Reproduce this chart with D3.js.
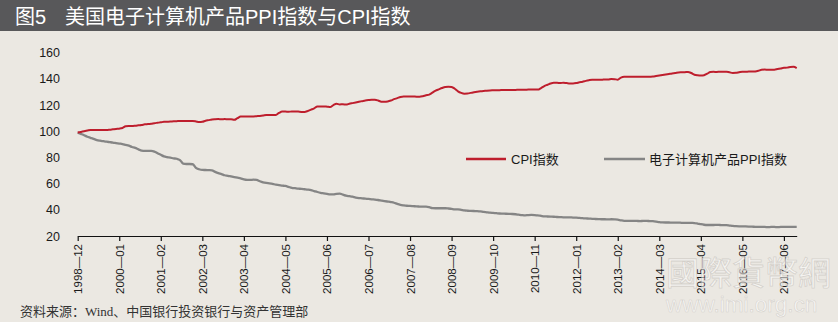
<!DOCTYPE html>
<html>
<head>
<meta charset="utf-8">
<script src="https://cdn.jsdelivr.net/npm/d3@7"></script>
<style>
  html, body { margin: 0; padding: 0; background: #ebe8e2; }
  svg { display: block; }
</style>
</head>
<body>
<svg id="chart" width="838" height="322"></svg>
<script>
// ---- data (monthly index, 1998-12 = 100 base) ----
const seriesNames = ["CPI指数", "电子计算机产品PPI指数"];

const cpiValues = [
  99,99.5,100,100.5,101,101,101,101,101,101,101.2,101.5,101.8,
  102,102.5,103.8,104,104,104.2,104.5,104.8,105.3,105.5,105.8,106.2,106.5,
  106.8,107.2,107.3,107.4,107.6,107.7,107.8,107.8,107.8,107.8,107.8,107.5,107,
  107.2,108,108.5,109,109.2,109.3,109.2,109.3,109.2,109.2,108.7,110,111.2,
  111.3,111.3,111.3,111.3,111.5,111.7,112,112.4,112.4,112.4,112.5,114,115,
  115,114.9,115.1,115.1,115,114.8,114.8,115.5,116.5,117.5,119,119,119,
  118.8,118.5,120,121,120.5,120.6,120.4,121,121.5,122,122.5,123,123.5,
  123.8,124,124,123.5,122.6,122.5,122.8,123.5,124.5,125.3,126.2,126.6,126.6,
  126.5,126.6,126.4,126.4,126.8,127.5,128,129.5,131,132,133,133.8,134,
  133.8,132.5,130.5,129.3,128.7,128.8,129.3,129.8,130.2,130.5,130.7,131,131.2,
  131.3,131.4,131.4,131.5,131.5,131.6,131.6,131.6,131.7,131.7,131.7,131.8,131.8,
  131.8,131.8,133,134.5,135.5,136.5,137,137,136.8,137.1,136.8,136.5,136.5,
  136.8,137.4,137.8,138.5,139,139.3,139.3,139.4,139.3,139.6,139.5,140,139.8,
  139.4,141,141.6,141.6,141.6,141.7,141.6,141.6,141.7,141.6,141.7,141.8,142.2,
  142.6,143,143.4,143.8,144.2,144.5,144.9,145,145.1,145.3,144.5,143.2,142.7,
  142.5,142.8,144,145.3,145.4,145.3,145.5,145.4,145.5,145,144.5,144.6,145.1,
  145.5,145.4,145.6,145.6,145.7,146.2,147,147.1,147,147,147,147.5,148,
  148.5,148.6,149,149.2,148.3
];

const ppiValues = [
  99,98,97,95.8,95,94.2,93.3,92.8,92.4,92,91.7,91.4,91,
  90.6,90.2,89.6,89,88,87.3,86.2,85.2,85,85,85,84.5,83.2,
  82,80.8,80.2,79.8,79.3,79,78,75.3,75,75,74.8,72,71,
  70.5,70.4,70.3,70.2,69,68,67.3,66.4,66,65.5,65,64.5,64,
  63.2,62.8,62.8,63,62.8,61.8,61,60.5,60.2,59.8,59.2,58.9,58.5,
  58.2,57.5,56.8,56.5,56.2,56,55.7,55.4,55,54.3,53.6,53,52.6,
  52.2,51.8,51.8,52.2,52.3,51.6,50.8,50.4,50,49.4,49,48.8,48.5,
  48.3,48,47.8,47.5,47.1,46.7,46.3,45.9,45.4,44.5,43.8,43.4,43.1,
  43,42.8,42.6,42.5,42.4,42.4,42,41.3,41.2,41.2,41.2,41.2,41,
  40.7,40.4,40.4,40,39.5,39.3,39.2,39.1,39,38.8,38.4,38.1,37.8,
  37.6,37.4,37.2,37.1,37,36.9,36.8,36.6,36.3,36,35.8,36,36.1,
  36,35.8,35.4,35,34.9,34.8,34.7,34.5,34.4,34.3,34.3,34.2,34.1,
  34,33.8,33.6,33.4,33.3,33.1,33,32.9,32.8,32.8,32.7,32.8,32.7,
  32.5,32,31.6,31.5,31.5,31.6,31.5,31.4,31.5,31.5,31.4,31.3,31,
  30.6,30.4,30.3,30.3,30.2,30.2,30.2,30.1,30.1,30.1,30,29.9,29.5,
  29,28.6,28.4,28.4,28.4,28.5,28.4,28.3,28.3,28,27.7,27.5,27.4,
  27.4,27.3,27.2,27.1,27,26.9,26.9,26.9,26.8,26.9,26.9,26.8,26.9,
  26.9,26.9,26.9,26.9,26.9
];

const xTickLabels = [
  "1998—12","2000—01","2001—02","2002—03","2003—04","2004—05",
  "2005—06","2006—07","2007—08","2008—09","2009—10","2010—11",
  "2012—01","2013—02","2014—03","2015—04","2016—05","2017—06"
];
const yTicks = [20, 40, 60, 80, 100, 120, 140, 160];

const titleLabel = "图5";
const titleText = "美国电子计算机产品PPI指数与CPI指数";
const sourceText = "资料来源：Wind、中国银行投资银行与资产管理部";

// ---- drawing ----
const svg = d3.select("#chart");
const W = 838, H = 322;
const latin = "'Liberation Sans', Arial, Helvetica, 'Noto Sans CJK SC', sans-serif";
const cjk = "'Liberation Sans', 'Noto Sans CJK SC', sans-serif";

svg.append("rect").attr("width", W).attr("height", H).attr("fill", "#ebe8e2");

// title bar
svg.append("rect").attr("x", 0).attr("y", 0).attr("width", W).attr("height", 31).attr("fill", "#58585a");
svg.append("text").attr("x", 15).attr("y", 23.5)
  .attr("font-family", cjk).attr("font-size", 20).attr("fill", "#ffffff").text(titleLabel);
svg.append("text").attr("x", 65).attr("y", 23.5)
  .attr("font-family", cjk).attr("font-size", 20).attr("fill", "#ffffff").text(titleText);

const n = cpiValues.length;
const x = d3.scaleLinear().domain([0, n - 1]).range([77.7, 796.7]);
const y = d3.scaleLinear().domain([20, 160]).range([236, 52.7]);

// y axis labels (no line, no ticks)
const yAxis = d3.axisLeft(y).tickValues(yTicks).tickSize(0).tickPadding(0).tickFormat(d3.format("d"));
const gy = svg.append("g").attr("transform", "translate(60,0)").call(yAxis);
gy.select(".domain").remove();
gy.selectAll("text").attr("font-family", latin).attr("font-size", 12.5).attr("fill", "#1a1a1a");

// x axis
const tickIdx = xTickLabels.map((_, i) => i * 13);
const xAxis = d3.axisBottom(x).tickValues(tickIdx).tickSize(5)
  .tickFormat((d, i) => xTickLabels[i]).tickSizeOuter(0);
const gx = svg.append("g").attr("transform", "translate(0,236)").call(xAxis);
gx.select(".domain").attr("stroke", "#111").attr("stroke-width", 1.2);
gx.selectAll(".tick line").attr("stroke", "#111").attr("stroke-width", 1.2);
gx.selectAll(".tick text")
  .attr("font-family", latin).attr("font-size", 11.5).attr("fill", "#1a1a1a")
  .attr("transform", "rotate(-90)")
  .attr("text-anchor", "end")
  .attr("x", -8).attr("y", 0).attr("dy", "0.35em");

// lines
const line = d3.line().x((d, i) => x(i)).y(d => y(d)).curve(d3.curveMonotoneX);
svg.append("path").datum(ppiValues).attr("d", line)
  .attr("fill", "none").attr("stroke", "#858585").attr("stroke-width", 2.3).attr("stroke-linejoin", "round");
svg.append("path").datum(cpiValues).attr("d", line)
  .attr("fill", "none").attr("stroke", "#be1e2d").attr("stroke-width", 2).attr("stroke-linejoin", "round");

// legend
const legend = [
  { name: seriesNames[0], color: "#be1e2d", x1: 466, x2: 506, tx: 511 },
  { name: seriesNames[1], color: "#858585", x1: 604, x2: 645, tx: 649 }
];
legend.forEach(l => {
  svg.append("line").attr("x1", l.x1).attr("x2", l.x2).attr("y1", 159).attr("y2", 159)
    .attr("stroke", l.color).attr("stroke-width", 2.3);
  svg.append("text").attr("x", l.tx).attr("y", 163.5)
    .attr("font-family", cjk).attr("font-size", 13).attr("fill", "#1a1a1a").text(l.name);
});

// source
svg.append("text").attr("x", 20).attr("y", 316)
  .attr("font-family", "'Liberation Serif', 'DejaVu Serif', 'Noto Sans CJK SC', serif")
  .attr("font-size", 13).attr("fill", "#333").text(sourceText);

// watermark
svg.append("text").attr("x", 666).attr("y", 285)
  .attr("font-family", "'Noto Sans CJK TC', sans-serif").attr("font-size", 33)
  .attr("fill", "#ffffff").attr("fill-opacity", 0.55)
  .attr("stroke", "#b8b3ad").attr("stroke-opacity", 0.5).attr("stroke-width", 0.8)
  .text("國際貨幣網");
svg.append("text").attr("x", 666).attr("y", 312)
  .attr("font-family", latin).attr("font-size", 22.5)
  .attr("fill", "#ffffff").attr("fill-opacity", 0.6)
  .attr("stroke", "#c4bfb9").attr("stroke-opacity", 0.6).attr("stroke-width", 0.6)
  .text("www.imi.org.cn");
</script>
</body>
</html>
